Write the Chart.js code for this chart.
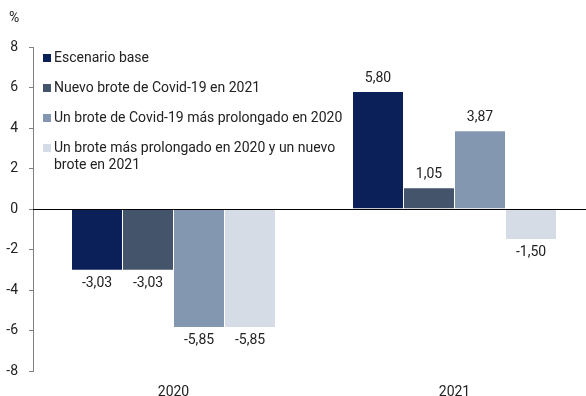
<!DOCTYPE html>
<html>
<head>
<meta charset="utf-8">
<script src="https://cdn.jsdelivr.net/npm/chart.js@4.4.1/dist/chart.umd.min.js"></script>
<style>
  html, body { margin: 0; padding: 0; background: #fff; overflow: hidden; }
  #wrap { position: relative; width: 600px; height: 396px; }
</style>
</head>
<body>
<div id="wrap"><canvas id="c"></canvas></div>
<script>
// Years on the horizontal axis
const categories = ['2020', '2021'];

// Scenario names (legend)
const seriesNames = [
  'Escenario base',
  'Nuevo brote de Covid-19 en 2021',
  'Un brote de Covid-19 más prolongado en 2020',
  ['Un brote más prolongado en 2020 y un nuevo', 'brote en 2021']
];

// Growth values (%) per scenario
const escenarioBase = [-3.03, 5.80];
const nuevoBrote2021 = [-3.03, 1.05];
const broteProlongado2020 = [-5.85, 3.87];
const broteProlongadoYNuevo = [-5.85, -1.50];

// Y axis tick range
const yTicks = [-8, -6, -4, -2, 0, 2, 4, 6, 8];

const colors = ['#0b2058', '#44546a', '#8497b0', '#d6dce5'];
const FONT = 'Roboto, "Liberation Sans", Arial, sans-serif';

const seriesValues = [escenarioBase, nuevoBrote2021, broteProlongado2020, broteProlongadoYNuevo];

const fmt = v => v.toFixed(2).replace('.', ',');

// Zero line, legend, value labels and unit text
const overlay = {
  id: 'overlay',
  afterDatasetsDraw(chart) {
    const { ctx, chartArea, scales } = chart;
    const y0 = scales.y.getPixelForValue(0);
    ctx.save();
    ctx.strokeStyle = '#000';
    ctx.lineWidth = 1;
    ctx.beginPath();
    ctx.moveTo(chartArea.left, Math.round(y0) + 0.5);
    ctx.lineTo(chartArea.right, Math.round(y0) + 0.5);
    ctx.stroke();

    // value labels
    ctx.font = '14px ' + FONT;
    ctx.fillStyle = '#222';
    ctx.textAlign = 'center';
    ctx.textBaseline = 'middle';
    chart.data.datasets.forEach((ds, i) => {
      const meta = chart.getDatasetMeta(i);
      meta.data.forEach((bar, j) => {
        const v = ds.data[j];
        const y = v >= 0 ? bar.y - 13 : bar.y + 13;
        ctx.fillText(fmt(v), bar.x, y);
      });
    });

    // legend
    ctx.textAlign = 'left';
    const rows = [58, 88, 118, 148];
    chart.data.datasets.forEach((ds, i) => {
      const y = rows[i];
      ctx.fillStyle = ds.backgroundColor;
      ctx.fillRect(43, y - 4, 8, 8);
      ctx.fillStyle = '#222';
      const lines = Array.isArray(ds.label) ? ds.label : [ds.label];
      lines.forEach((t, k) => ctx.fillText(t, 54, y + k * 17));
    });

    // unit
    ctx.fillText('%', 9, 18);
    ctx.restore();
  }
};

new Chart(document.getElementById('c'), {
  type: 'bar',
  data: {
    labels: categories,
    datasets: seriesNames.map((name, i) => ({
      label: name,
      data: seriesValues[i],
      backgroundColor: colors[i],
      borderColor: 'rgba(255,255,255,0.35)',
      borderWidth: 0.5,
      categoryPercentage: 0.726,
      barPercentage: 1
    }))
  },
  options: {
    responsive: true,
    maintainAspectRatio: false,
    animation: false,
    layout: { padding: { top: 47, right: 5, bottom: 0, left: 0 } },
    plugins: { legend: { display: false }, tooltip: { enabled: false } },
    scales: {
      x: {
        grid: { display: false },
        border: { display: false },
        ticks: { color: '#222', font: { family: FONT, size: 14 }, padding: 5 },
        afterFit(scale) { scale.height = 25; }
      },
      y: {
        min: yTicks[0],
        max: yTicks[yTicks.length - 1],
        afterBuildTicks(scale) { scale.ticks = yTicks.map(v => ({ value: v })); },
        grid: { drawOnChartArea: false, drawTicks: true, tickLength: 4, color: '#7f7f7f' },
        border: { display: true, color: '#7f7f7f' },
        ticks: { color: '#222', font: { family: FONT, size: 14 }, padding: 11 },
        afterFit(scale) { scale.width = 33; }
      }
    }
  },
  plugins: [overlay]
});
</script>
</body>
</html>
